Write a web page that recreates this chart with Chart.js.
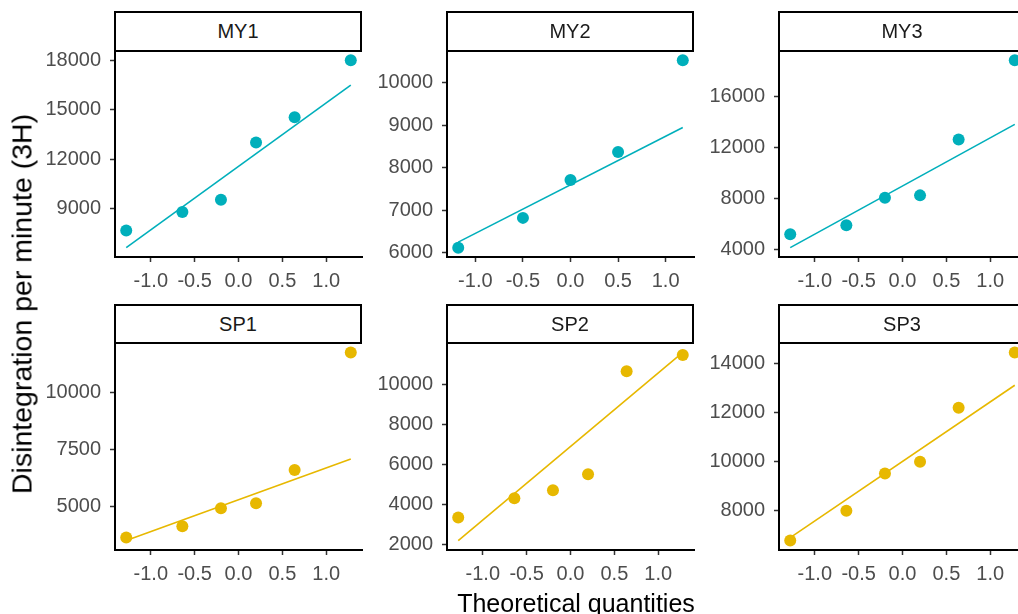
<!DOCTYPE html>
<html>
<head>
<meta charset="utf-8">
<script src="https://cdn.jsdelivr.net/npm/chart.js@4.4.1/dist/chart.umd.min.js"></script>
<style>
  html, body { margin: 0; padding: 0; background: #fff; }
  body {
    position: relative; width: 1018px; height: 614px; overflow: hidden;
    font-family: "Liberation Sans", Arial, sans-serif;
  }
  .panel { position: absolute; }
  .strip {
    position: absolute; box-sizing: border-box; z-index: 2;
    border: 2px solid #000; background: #fff; color: #1a1a1a;
    font-size: 20px; display: flex; align-items: center; justify-content: center;
  }
  .ytitle {
    position: absolute; left: 22px; top: 304px; z-index: 3;
    transform: translate(-50%, -50%) rotate(-90deg);
    white-space: nowrap; font-size: 28.5px; color: #000;
  }
  .xtitle {
    position: absolute; left: 576px; top: 589px; z-index: 3;
    transform: translateX(-50%);
    white-space: nowrap; font-size: 25px; color: #000;
  }
</style>
</head>
<body>
<div class="ytitle">Disintegration per minute (3H)</div>
<div class="xtitle">Theoretical quantities</div>
<script>
// ---------- Data ----------
const qx6 = [-1.28, -0.64, -0.2, 0.2, 0.64, 1.28];
const qx5 = [-1.18, -0.5, 0, 0.5, 1.18];
const xTicks = [-1, -0.5, 0, 0.5, 1];

const panelNames = ['MY1', 'MY2', 'MY3', 'SP1', 'SP2', 'SP3'];

const my1Values = [7630, 8760, 9510, 13010, 14560, 18030];
const my2Values = [6120, 6820, 7710, 8370, 10525];
const my3Values = [5230, 5930, 8100, 8280, 12670, 18870];
const sp1Values = [3620, 4110, 4910, 5130, 6590, 11780];
const sp2Values = [3350, 4310, 4720, 5510, 10660, 11470];
const sp3Values = [6780, 8000, 9510, 9990, 12190, 14450];

// reference line values at the lowest / highest theoretical quantile
const my1Line = [6590, 16520];
const my2Line = [6250, 8945];
const my3Line = [4180, 13850];
const sp1Line = [3480, 7080];
const sp2Line = [2200, 11600];
const sp3Line = [6900, 13110];

const my1Ticks = [9000, 12000, 15000, 18000];
const my2Ticks = [6000, 7000, 8000, 9000, 10000];
const my3Ticks = [4000, 8000, 12000, 16000];
const sp1Ticks = [5000, 7500, 10000];
const sp2Ticks = [2000, 4000, 6000, 8000, 10000];
const sp3Ticks = [8000, 10000, 12000, 14000];

const teal = '#00AFBB';
const gold = '#E7B800';

// ---------- Layout ----------
const colLeft = [115, 447, 779];
const rowTop = [51, 343];
const stripTop = [11, 304];
const plotW = 247;
const plotH = [206, 207];
// PT must exceed the y axis label overflow Chart.js reserves (~half label + tick padding)
const YW = 80, PT = 26, PR = 15, XH = 45;
const tickFont = { family: '"Liberation Sans", Arial, sans-serif', size: 20 };

function expandRange(vals) {
  const lo = Math.min(...vals), hi = Math.max(...vals);
  const pad = (hi - lo) * 0.05;
  return [lo - pad, hi + pad];
}

function createPanel(name, qx, values, line, yTicks, color, col, row) {
  const wrap = document.createElement('div');
  wrap.className = 'panel';
  wrap.style.left = (colLeft[col] - YW) + 'px';
  wrap.style.top = (rowTop[row] - PT) + 'px';
  wrap.style.width = (YW + plotW + PR) + 'px';
  wrap.style.height = (PT + plotH[row] + XH) + 'px';
  const canvas = document.createElement('canvas');
  wrap.appendChild(canvas);
  document.body.appendChild(wrap);

  const strip = document.createElement('div');
  strip.className = 'strip';
  strip.textContent = name;
  strip.style.left = (colLeft[col] - 1) + 'px';
  strip.style.top = stripTop[row] + 'px';
  strip.style.width = (plotW + 1) + 'px';
  strip.style.height = (rowTop[row] - stripTop[row] + 1) + 'px';
  document.body.appendChild(strip);

  const xLim = qx[qx.length - 1] * 1.1;
  const yLim = expandRange(values.concat(line));

  return new Chart(canvas, {
    type: 'scatter',
    data: {
      datasets: [{
        data: values.map((v, i) => ({ x: qx[i], y: v })),
        backgroundColor: color,
        borderWidth: 0,
        pointRadius: 6,
        pointHoverRadius: 6,
        clip: false
      }, {
        data: [{ x: qx[0], y: line[0] }, { x: qx[qx.length - 1], y: line[1] }],
        showLine: true,
        borderColor: color,
        borderWidth: 1.6,
        pointRadius: 0,
        clip: false
      }]
    },
    options: {
      responsive: true,
      maintainAspectRatio: false,
      animation: false,
      layout: { padding: { top: PT, right: PR, left: 0, bottom: 0 } },
      plugins: { legend: { display: false }, tooltip: { enabled: false } },
      scales: {
        x: {
          type: 'linear',
          min: -xLim,
          max: xLim,
          afterBuildTicks: (axis) => { axis.ticks = xTicks.map(v => ({ value: v })); },
          afterFit: (axis) => { axis.height = XH; },
          ticks: {
            color: '#4d4d4d', font: tickFont, padding: 7, maxRotation: 0,
            callback: (v) => Number(v).toFixed(1)
          },
          grid: { drawOnChartArea: false, tickLength: 5, tickColor: '#333', tickWidth: 1.5 },
          border: { display: true, color: '#000', width: 2 }
        },
        y: {
          type: 'linear',
          min: yLim[0],
          max: yLim[1],
          afterBuildTicks: (axis) => { axis.ticks = yTicks.map(v => ({ value: v })); },
          afterFit: (axis) => { axis.width = YW; },
          ticks: {
            color: '#4d4d4d', font: tickFont, padding: 9,
            callback: (v) => String(v)
          },
          grid: { drawOnChartArea: false, tickLength: 5, tickColor: '#333', tickWidth: 1.5 },
          border: { display: true, color: '#000', width: 2 }
        }
      }
    }
  });
}

// ---------- Create panels ----------
createPanel(panelNames[0], qx6, my1Values, my1Line, my1Ticks, teal, 0, 0);
createPanel(panelNames[1], qx5, my2Values, my2Line, my2Ticks, teal, 1, 0);
createPanel(panelNames[2], qx6, my3Values, my3Line, my3Ticks, teal, 2, 0);
createPanel(panelNames[3], qx6, sp1Values, sp1Line, sp1Ticks, gold, 0, 1);
createPanel(panelNames[4], qx6, sp2Values, sp2Line, sp2Ticks, gold, 1, 1);
createPanel(panelNames[5], qx6, sp3Values, sp3Line, sp3Ticks, gold, 2, 1);
</script>
</body>
</html>
